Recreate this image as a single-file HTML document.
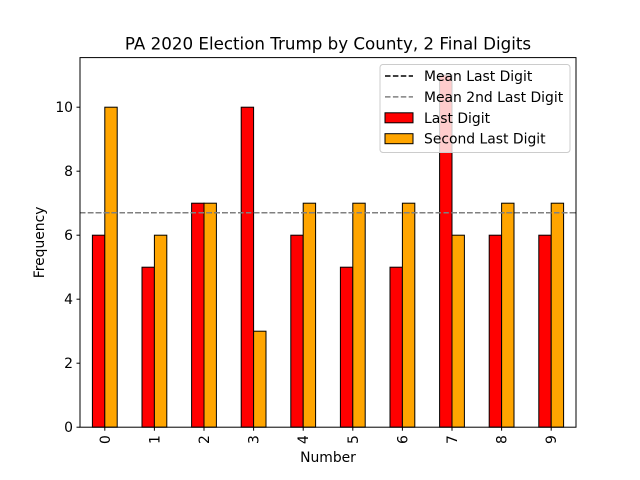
<!DOCTYPE html>
<html><head><meta charset="utf-8"><style>body{margin:0;background:#fff}svg{display:block;font-family:"DejaVu Sans","Liberation Sans",sans-serif}</style></head>
<body>
<svg id="chart" width="640" height="480"></svg>
<script>
const categories=["0","1","2","3","4","5","6","7","8","9"];
const lastDigit=[6,5,7,10,6,5,5,11,6,6];
const secondLastDigit=[10,6,7,3,7,7,7,6,7,7];
const yTicks=[0,2,4,6,8,10];
const NS="http://www.w3.org/2000/svg";
const svg=document.getElementById('chart');
const L=80,R=576,T=57.6,B=427.2;
const n=categories.length;
const maxV=Math.max(...lastDigit,...secondLastDigit)*1.05;
const x=i=>L+(i+0.5)/n*(R-L);
const y=v=>B-v/maxV*(B-T);
const bw=0.25/n*(R-L);
const FS=13.9;
function el(t,a,p){const e=document.createElementNS(NS,t);for(const k in a)e.setAttribute(k,a[k]);(p||svg).appendChild(e);return e;}
function txt(s,a){const e=el('text',a);e.textContent=s;return e;}
categories.forEach((c,i)=>{
  const b1=el('rect',{x:x(i)-bw,y:y(lastDigit[i]),width:bw,height:B-y(lastDigit[i]),fill:'#ff0000',stroke:'#000','stroke-width':1});
  
  
  const b2=el('rect',{x:x(i),y:y(secondLastDigit[i]),width:bw,height:B-y(secondLastDigit[i]),fill:'#ffa500',stroke:'#000','stroke-width':1});
  
  
  el('line',{x1:x(i),x2:x(i),y1:B,y2:B+3.5,stroke:'#000'});
  const t=txt(c,{x:x(i)+5,y:B+8,'font-size':FS,'text-anchor':'end',transform:`rotate(-90 ${x(i)+5} ${B+8})`});
  
  
});
const mean1=lastDigit.reduce((a,b)=>a+b,0)/n, mean2=secondLastDigit.reduce((a,b)=>a+b,0)/n;
const m1=el('line',{x1:L,x2:R,y1:y(mean1),y2:y(mean1),stroke:'#000','stroke-width':1.5,'stroke-dasharray':'5.5,2.4'});


const m2=el('line',{x1:L,x2:R,y1:y(mean2),y2:y(mean2),stroke:'#808080','stroke-width':1.5,'stroke-dasharray':'5.5,2.4'});


yTicks.forEach(v=>{
  el('line',{x1:L-3.5,x2:L,y1:y(v),y2:y(v),stroke:'#000'});
  const t=txt(String(v),{x:L-7,y:y(v)+5,'font-size':FS,'text-anchor':'end'});
  
  
});
el('rect',{x:L,y:T,width:R-L,height:B-T,fill:'none',stroke:'#000','stroke-width':1});
const ti=txt('PA 2020 Election Trump by County, 2 Final Digits',{x:(L+R)/2,y:T-8,'font-size':16.7,'text-anchor':'middle'});

const xt=txt('Number',{x:(L+R)/2,y:462,'font-size':FS,'text-anchor':'middle'});

const yt=txt('Frequency',{x:44,y:(T+B)/2,'font-size':FS,'text-anchor':'middle',transform:`rotate(-90 44 ${(T+B)/2})`});

const lg=el('g',{});

el('rect',{x:380,y:64.5,width:190,height:88,rx:3,fill:'rgba(255,255,255,0.8)',stroke:'#ccc'},lg);
const items=[['line','#000','Mean Last Digit'],['line','#808080','Mean 2nd Last Digit'],['rect','#ff0000','Last Digit'],['rect','#ffa500','Second Last Digit']];
items.forEach((it,k)=>{
  const cy=76+k*20.9;
  if(it[0]=='line')el('line',{x1:385,x2:413,y1:cy,y2:cy,stroke:it[1],'stroke-width':1.5,'stroke-dasharray':'5.5,2.4'},lg);
  else el('rect',{x:385,y:cy-5,width:28,height:10,fill:it[1],stroke:'#000'},lg);
  const t=el('text',{x:424,y:cy+5,'font-size':FS},lg);t.textContent=it[2];
  
});
</script>
</body></html>
